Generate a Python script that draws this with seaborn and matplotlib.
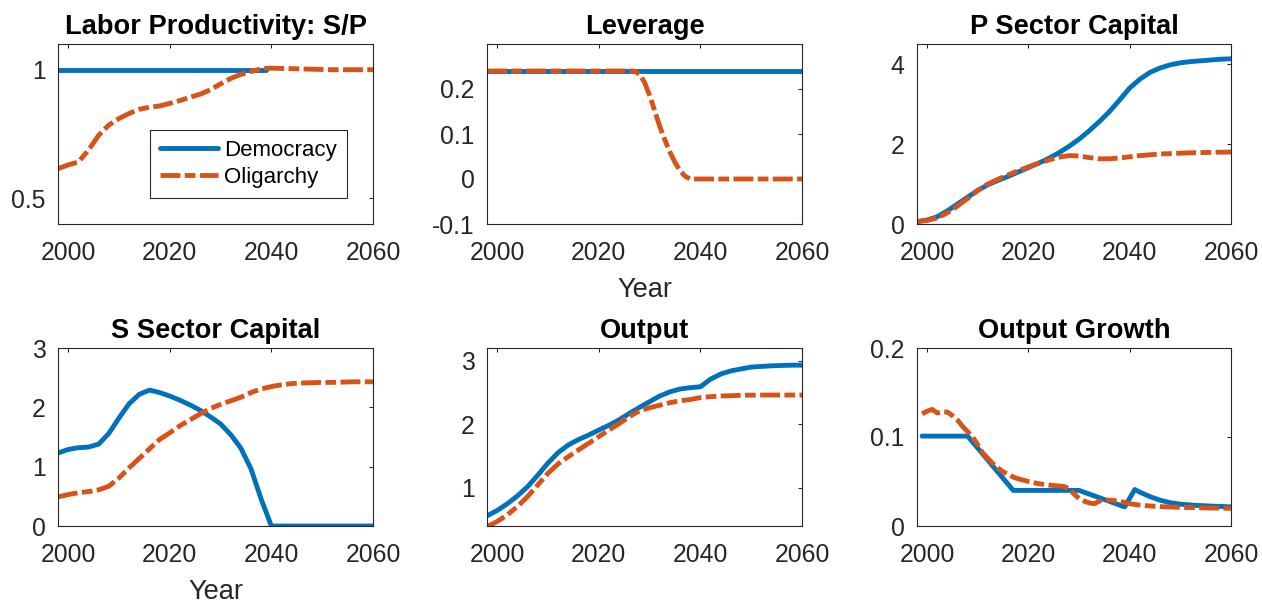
import numpy as np
import pandas as pd
import matplotlib
matplotlib.use("Agg")
import matplotlib.pyplot as plt
import seaborn as sns

# ---------------- data ----------------
regimes = ["Democracy", "Oligarchy"]
titles = ["Labor Productivity: S/P", "Leverage", "P Sector Capital",
          "S Sector Capital", "Output", "Output Growth"]
xticks = [2000, 2020, 2040, 2060]
xtick_labels = ["2000", "2020", "2040", "2060"]

years2 = list(range(1998, 2061, 2))  # 1998, 2000, ..., 2060

# Labor productivity S/P
lp_dem_years = [1998, 2039]
lp_dem = [1.0, 1.0]
lp_olig = [0.615, 0.63, 0.641, 0.687, 0.745, 0.785, 0.81, 0.83, 0.846, 0.854,
           0.859, 0.869, 0.88, 0.893, 0.905, 0.922, 0.945, 0.966, 0.982, 0.993,
           1.004, 1.006, 1.005, 1.004, 1.003, 1.002, 1.001, 1.0, 1.0, 1.0, 1.0, 1.0]

# Leverage
lev_dem_years = [1998, 2060]
lev_dem = [0.24, 0.24]
lev_olig_years = [1998, 2027, 2028, 2029, 2030, 2031, 2032, 2033, 2034, 2035,
                  2036, 2037, 2038, 2060]
lev_olig = [0.24, 0.24, 0.233, 0.215, 0.186, 0.152, 0.117, 0.087, 0.06, 0.037,
            0.018, 0.006, 0.0, 0.0]

# P sector capital
pk_dem = [0.06, 0.1, 0.18, 0.33, 0.5, 0.67, 0.84, 0.98, 1.09, 1.19, 1.3, 1.41,
          1.52, 1.64, 1.78, 1.94, 2.12, 2.33, 2.56, 2.81, 3.1, 3.4, 3.62, 3.79,
          3.9, 3.98, 4.03, 4.06, 4.08, 4.1, 4.12, 4.13]
pk_olig = [0.06, 0.09, 0.15, 0.28, 0.45, 0.64, 0.84, 1.0, 1.12, 1.23, 1.33, 1.43,
           1.52, 1.6, 1.67, 1.71, 1.7, 1.66, 1.63, 1.63, 1.65, 1.68, 1.71, 1.73,
           1.75, 1.76, 1.77, 1.78, 1.785, 1.79, 1.795, 1.8]

# S sector capital
sk_dem = [1.23, 1.29, 1.32, 1.33, 1.38, 1.56, 1.82, 2.06, 2.22, 2.29, 2.25, 2.19,
          2.12, 2.04, 1.95, 1.84, 1.72, 1.54, 1.31, 0.96, 0.45, 0.0, 0.0, 0.0,
          0.0, 0.0, 0.0, 0.0, 0.0, 0.0, 0.0, 0.0]
sk_olig = [0.49, 0.53, 0.56, 0.58, 0.61, 0.67, 0.81, 0.98, 1.14, 1.30, 1.46, 1.57,
           1.69, 1.79, 1.89, 1.98, 2.05, 2.11, 2.17, 2.25, 2.31, 2.35, 2.38, 2.40,
           2.41, 2.415, 2.42, 2.42, 2.425, 2.43, 2.43, 2.43]

# Output
y_dem = [0.56, 0.644, 0.75, 0.874, 1.02, 1.2, 1.39, 1.555, 1.675, 1.76, 1.83,
         1.91, 1.985, 2.07, 2.17, 2.265, 2.356, 2.445, 2.51, 2.555, 2.576, 2.59,
         2.71, 2.79, 2.84, 2.87, 2.9, 2.91, 2.92, 2.925, 2.93, 2.93]
y_olig = [0.39, 0.47, 0.576, 0.707, 0.864, 1.047, 1.23, 1.377, 1.49, 1.597, 1.70,
          1.806, 1.91, 2.01, 2.12, 2.21, 2.26, 2.30, 2.34, 2.37, 2.39, 2.42,
          2.435, 2.445, 2.45, 2.455, 2.458, 2.46, 2.46, 2.46, 2.46, 2.46]

# Output growth
g_dem_years = [1999, 2008, 2017, 2030, 2039, 2041, 2042, 2043, 2044, 2046, 2048,
               2050, 2053, 2056, 2060]
g_dem = [0.101, 0.101, 0.04, 0.04, 0.0215, 0.041, 0.038, 0.0355, 0.033, 0.029,
         0.0262, 0.0245, 0.0232, 0.0224, 0.0215]
g_olig_years = [1999, 2000, 2001, 2002, 2003, 2004, 2005, 2006, 2007, 2008, 2009,
                2010, 2011, 2012, 2013, 2014, 2015, 2016, 2017, 2018, 2020, 2022,
                2024, 2026, 2027, 2028, 2029, 2030, 2031, 2032, 2033, 2034, 2035,
                2036, 2038, 2040, 2042, 2044, 2047, 2050, 2055, 2060]
g_olig = [0.126, 0.129, 0.131, 0.127, 0.128, 0.128, 0.124, 0.119, 0.112, 0.106,
          0.1, 0.091, 0.082, 0.076, 0.07, 0.065, 0.061, 0.058, 0.055, 0.053, 0.05,
          0.0475, 0.046, 0.045, 0.0445, 0.042, 0.036, 0.031, 0.028, 0.026, 0.025,
          0.028, 0.029, 0.029, 0.028, 0.025, 0.0235, 0.0225, 0.0215, 0.021,
          0.0203, 0.0198]

ylims = [(0.4, 1.1), (-0.1, 0.3), (0, 4.5), (0, 3), (0.4, 3.2), (0, 0.2)]
yticks = [[0.5, 1], [-0.1, 0, 0.1, 0.2], [0, 2, 4], [0, 1, 2, 3], [1, 2, 3],
          [0, 0.1, 0.2]]
ytick_labels = [["0.5", "1"], ["-0.1", "0", "0.1", "0.2"], ["0", "2", "4"],
                ["0", "1", "2", "3"], ["1", "2", "3"], ["0", "0.1", "0.2"]]


def frame(xd, vd, xo, vo):
    return pd.concat([
        pd.DataFrame({"Year": xd, "value": vd, "regime": regimes[0]}),
        pd.DataFrame({"Year": xo, "value": vo, "regime": regimes[1]}),
    ], ignore_index=True)


panels = [
    frame(lp_dem_years, lp_dem, years2, lp_olig),
    frame(lev_dem_years, lev_dem, lev_olig_years, lev_olig),
    frame(years2, pk_dem, years2, pk_olig),
    frame(years2, sk_dem, years2, sk_olig),
    frame(years2, y_dem, years2, y_olig),
    frame(g_dem_years, g_dem, g_olig_years, g_olig),
]

# ---------------- style ----------------
sns.set_style("white")
plt.rcParams["font.family"] = ["Liberation Sans", "DejaVu Sans"]
INK = "#262626"
palette = {"Democracy": "#0072BD", "Oligarchy": "#D95319"}
dashes = {"Democracy": "", "Oligarchy": (4.1, 0.9, 2.2, 0.9)}

W, H = 1262, 603
fig = plt.figure(figsize=(W / 100, H / 100), dpi=100)


def rect(l, t, r, b):
    return [l / W, 1 - b / H, (r - l) / W, (b - t) / H]


cols = [(58, 373), (487, 802), (917, 1231)]
rows = [(44, 224), (348, 526)]

for i, df in enumerate(panels):
    r, c = divmod(i, 3)
    ax = fig.add_axes(rect(cols[c][0], rows[r][0], cols[c][1], rows[r][1]))
    sns.lineplot(data=df, x="Year", y="value", hue="regime", style="regime",
                 palette=palette, dashes=dashes, linewidth=3.5, ax=ax,
                 legend=(i == 0), sort=True, estimator=None)
    ax.set_xlim(1998, 2060)
    ax.set_ylim(*ylims[i])
    ax.set_xticks(xticks)
    ax.set_xticklabels(xtick_labels)
    ax.set_yticks(yticks[i])
    ax.set_yticklabels(ytick_labels[i])
    ax.tick_params(direction="in", top=True, right=True, length=3, width=0.75,
                   colors=INK, labelsize=17.8)
    ax.tick_params(axis="x", pad=12)
    ax.tick_params(axis="y", pad=9)
    for s in ax.spines.values():
        s.set_color(INK)
        s.set_linewidth(0.8)
        s.set_visible(True)
    ax.set_title(titles[i], fontsize=19.6, fontweight="bold", pad=7, color="black")
    ax.set_ylabel("")
    if i in (1, 3):
        ax.set_xlabel("Year", fontsize=19.6, color=INK, labelpad=9)
    else:
        ax.set_xlabel("")
    if i == 0:
        leg = ax.legend(loc="upper left", bbox_to_anchor=(0.292, 0.522),
                        borderaxespad=0, fontsize=16, frameon=True,
                        fancybox=False, edgecolor=INK, framealpha=1,
                        handlelength=2.6, handletextpad=0.3, labelspacing=0.25,
                        borderpad=0.45)
        leg.get_frame().set_linewidth(0.8)
        for t in leg.get_texts():
            t.set_color("black")

fig.savefig("out.png", dpi=100)
